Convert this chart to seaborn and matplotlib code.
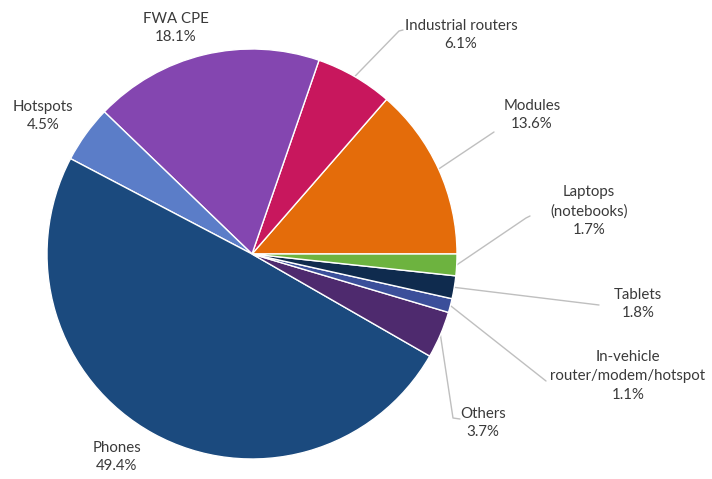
import numpy as np
import matplotlib.pyplot as plt
import seaborn as sns

# Data (shares of shipments, %)
labels = ['Modules', 'Industrial routers', 'FWA CPE', 'Hotspots', 'Phones', 'Others',
          'In-vehicle\nrouter/modem/hotspot', 'Tablets', 'Laptops\n(notebooks)']
shares = [13.6, 6.1, 18.1, 4.5, 49.4, 3.7, 1.1, 1.8, 1.7]
colors = ['#E46C0A', '#C8175D', '#8446B0', '#5B7DC8', '#1B4A7E', '#4E2A6E',
          '#3B4F9A', '#0F2B4E', '#6DB33F']

# Layout (image pixels, y from top): label centres and leader-line ends
W, H = 712, 479
label_xy = [(532, 115), (461, 35), (176, 28), (43, 116), (117, 457), (483, 423),
            (628, 376), (638, 304), (589, 211)]
leader_end = [(494, 132), (399, 31), None, None, None, (453, 418),
              (546, 381), (599, 305), (526, 218)]
stub_end = [None, (403, 30), None, None, None, (460, 419), None, None, (530, 216)]

sns.set_theme(style='white')
plt.rcParams['font.family'] = ['Lato', 'DejaVu Sans']

fig = plt.figure(figsize=(W / 100, H / 100), dpi=100)
ax = fig.add_axes([0, 0, 1, 1])

cx, cy, r = 252, H - 254, 205
wedges, _ = ax.pie(shares, center=(cx, cy), radius=r, startangle=0, counterclock=True,
                   colors=colors, wedgeprops=dict(edgecolor='white', linewidth=1))

for w, lab, val, (lx, ly), end, stub in zip(wedges, labels, shares, label_xy, leader_end, stub_end):
    ax.text(lx, H - ly, f'{lab}\n{val}%', ha='center', va='center', fontsize=10.8,
            color='#3A3A3A', linespacing=1.45)
    if end is not None:
        mid = np.deg2rad((w.theta1 + w.theta2) / 2)
        sx, sy = cx + r * np.cos(mid), cy + r * np.sin(mid)
        xs, ys = [sx, end[0]], [sy, H - end[1]]
        if stub is not None:
            xs.append(stub[0])
            ys.append(H - stub[1])
        ax.plot(xs, ys, color='#BFBFBF', lw=1, zorder=0)

ax.set_xlim(0, W)
ax.set_ylim(0, H)
ax.set_aspect('equal')
ax.axis('off')

fig.savefig('out.png', dpi=100)
